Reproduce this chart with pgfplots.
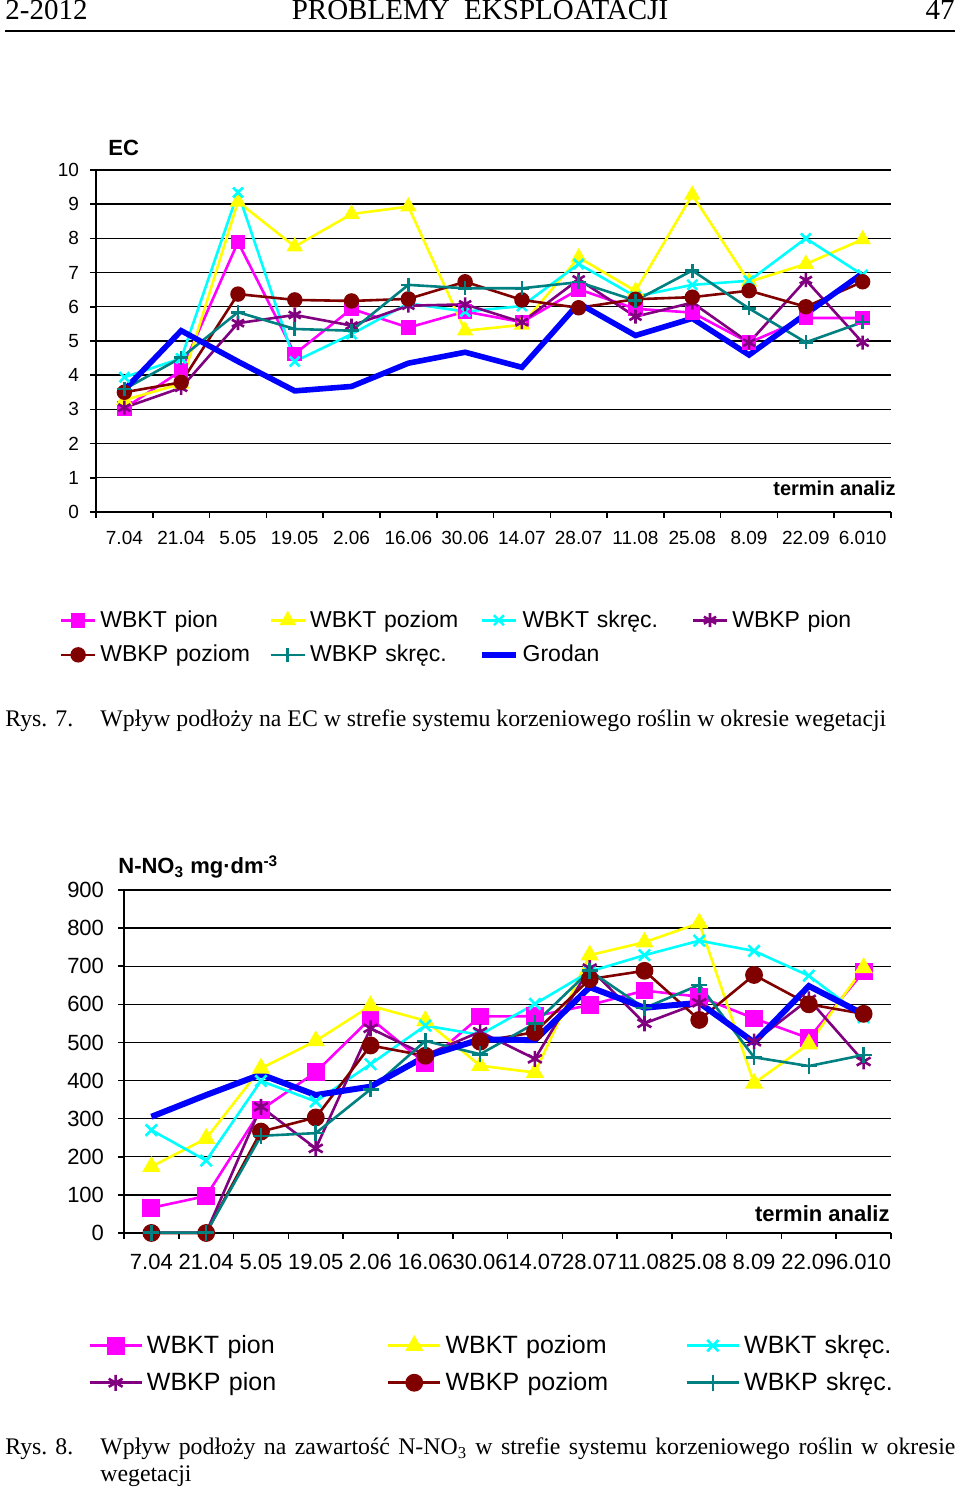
\documentclass[border=0pt]{standalone}
\usepackage{pgfplots}
\pgfplotsset{compat=1.18}
\usepackage{pgfplotstable}
\usepackage{fontspec}
\setmainfont{Liberation Serif}
\newfontfamily\arial{Liberation Sans}
\definecolor{cMag}{HTML}{FF00FF}
\definecolor{cYel}{HTML}{FFFF00}
\definecolor{cCya}{HTML}{00FFFF}
\definecolor{cPur}{HTML}{800080}
\definecolor{cBro}{HTML}{800000}
\definecolor{cTea}{HTML}{008080}
\definecolor{cBlu}{HTML}{0000FF}

% EC: a=WBKT pion, b=WBKT poziom, c=WBKT skrec, d=WBKP pion, e=WBKP poziom, f=WBKP skrec, g=Grodan
\pgfplotstableread{
x  a    b    c    d    e    f    g
0  3.03 3.27 3.94 3.05 3.50 3.59 3.57
1  4.13 3.75 4.49 3.63 3.79 4.51 5.30
2  7.89 9.07 9.34 5.52 6.37 5.84 4.40
3  4.62 7.76 4.40 5.76 6.20 5.35 3.54
4  5.94 8.71 5.20 5.45 6.17 5.30 3.67
5  5.39 8.93 6.10 6.03 6.23 6.64 4.35
6  5.86 5.30 5.86 6.07 6.73 6.54 4.67
7  5.55 5.47 6.02 5.55 6.20 6.54 4.23
8  6.51 7.44 7.25 6.80 5.97 6.72 6.10
9  5.94 6.46 6.30 5.71 6.22 6.18 5.16
10 5.83 9.27 6.64 6.12 6.28 7.06 5.66
11 4.95 6.73 6.76 4.95 6.47 5.95 4.59
12 5.67 7.25 8.00 6.78 6.00 4.96 5.79
13 5.67 7.97 6.93 4.95 6.73 5.55 6.98
}\ectable

% N-NO3
\pgfplotstableread{
x  a   b   c   d   e   f   g
0  66  174 270 1   0   1   305
1  97  248 190 1   0   1   362
2  323 432 399 331 266 255 416
3  422 504 345 222 303 262 362
4  563 596 443 537 492 377 384
5  445 557 544 467 465 504 463
6  568 439 520 528 502 469 508
7  569 421 601 457 527 550 506
8  598 729 686 695 666 688 645
9  636 763 729 550 688 590 591
10 620 813 767 604 559 651 604
11 563 393 740 502 677 461 500
12 511 496 675 613 600 438 648
13 686 696 566 450 575 467 574
}\notable

\pgfplotsset{
  sA/.style={cMag, line width=1.3bp, mark=square*, mark size=3bp, mark options={solid, fill=cMag}},
  sB/.style={cYel, line width=1.3bp, mark=triangle*, mark size=3.5bp, mark options={solid, fill=cYel}},
  sC/.style={cCya, line width=1.3bp, mark=x, mark size=3.5bp, mark options={solid}},
  sD/.style={cPur, line width=1.3bp, mark=asterisk, mark size=3.5bp, mark options={solid}},
  sE/.style={cBro, line width=1.3bp, mark=*, mark size=3.2bp, mark options={solid, fill=cBro}},
  sF/.style={cTea, line width=1.3bp, mark=+, mark size=3.5bp, mark options={solid}},
  sG/.style={cBlu, line width=2.8bp, mark=none},
  commonax/.style={
    scale only axis,
    xmin=-0.5, xmax=13.5,
    axis x line=bottom, axis y line=left,
    axis line style={-, black, line width=0.8bp},
    tick style={black, line width=0.8bp},
    tick align=outside,
    xtick={0,...,13},
    major x tick style={draw=none},
    minor xtick={-0.5,0.5,...,13.5},
    major tick length=3bp, minor tick length=3bp,
    ymajorgrids, major grid style={black, line width=0.7bp},
    /pgf/number format/assume math mode=true,
    clip=false,
  },
}

\begin{document}
\begin{tikzpicture}[x=0.5bp,y=0.5bp]
\useasboundingbox (0,0) rectangle (960,1491);
\fill[white] (0,0) rectangle (960,1491);

% header
\node[anchor=base west, inner sep=0, font=\fontsize{14.5bp}{16bp}\selectfont] at (5,1471) {2-2012};
\node[anchor=base, inner sep=0, font=\fontsize{14.5bp}{16bp}\selectfont] at (480,1471) {PROBLEMY\ \ EKSPLOATACJI};
\node[anchor=base east, inner sep=0, font=\fontsize{14.5bp}{16bp}\selectfont] at (955,1471) {47};
\draw[line width=0.8bp] (5,1460) -- (955,1460);

% ---------- Chart 1 ----------
\begin{axis}[commonax,
  at={(48bp,489.5bp)}, anchor=south west,
  width=397.5bp, height=171bp,
  ymin=0, ymax=10, ytick={0,...,10},
  xticklabels={7.04,21.04,5.05,19.05,2.06,16.06,30.06,14.07,28.07,11.08,25.08,8.09,22.09,6.010},
  tick label style={font=\arial\fontsize{9.5bp}{11bp}\selectfont},
  xticklabel style={yshift=-3bp},
  yticklabel style={xshift=-2bp},
  legend columns=4,
  legend cell align=left,
  legend style={at={(axis description cs:-0.046,-0.275)}, anchor=north west,
    draw=none, fill=none, inner sep=0pt,
    font=\arial\fontsize{11.5bp}{13bp}\selectfont,
    nodes={text width=77bp, align=left, inner xsep=2bp},
    /tikz/every even column/.append style={column sep=5.5bp},
    row sep=3.5bp},
]
\addplot[sA] table[x=x,y=a]{\ectable};
\addplot[sB] table[x=x,y=b]{\ectable};
\addplot[sC] table[x=x,y=c]{\ectable};
\addplot[sD] table[x=x,y=d]{\ectable};
\addplot[sE] table[x=x,y=e]{\ectable};
\addplot[sF] table[x=x,y=f]{\ectable};
\addplot[sG] table[x=x,y=g]{\ectable};
\legend{WBKT pion, WBKT poziom, WBKT skręc., WBKP pion, WBKP poziom, WBKP skręc., Grodan}
\end{axis}
\node[anchor=base west, inner sep=0, font=\arial\bfseries\fontsize{11bp}{12bp}\selectfont] at (108,1335) {EC};
\node[anchor=base east, inner sep=0, font=\arial\bfseries\fontsize{10bp}{12bp}\selectfont] at (896,995) {termin analiz};

% caption 1
\node[anchor=base west, inner sep=0, font=\fontsize{11.9bp}{13.5bp}\selectfont] at (5,764) {Rys. 7.};
\node[anchor=base west, inner sep=0, font=\fontsize{11.9bp}{13.5bp}\selectfont] at (100,764) {Wpływ podłoży na EC w strefie systemu korzeniowego roślin w okresie wegetacji};

% ---------- Chart 2 ----------
\begin{axis}[commonax,
  at={(62bp,129bp)}, anchor=south west,
  width=383.5bp, height=171.5bp,
  ymin=0, ymax=900, ytick={0,100,...,900},
  xticklabels={7.04,21.04,5.05,19.05,2.06,16.06,30.06,14.07,28.07,11.08,25.08,8.09,22.09,6.010},
  tick label style={font=\arial\fontsize{11bp}{12bp}\selectfont},
  xticklabel style={yshift=-4bp},
  yticklabel style={xshift=-3.5bp},
  legend columns=3,
  legend cell align=left,
  legend image code/.code={\draw[mark repeat=2,mark phase=2] plot coordinates {(0bp,0bp)(13bp,0bp)(26bp,0bp)};},
  legend style={at={(axis description cs:-0.047,-0.285)}, anchor=north west,
    draw=none, fill=none, inner sep=0pt,
    font=\arial\fontsize{12.5bp}{14bp}\selectfont,
    nodes={text width=108bp, align=left, inner xsep=2bp},
    /tikz/every even column/.append style={column sep=10bp},
    row sep=4bp},
]
\addplot[sA, mark size=3.8bp] table[x=x,y=a]{\notable};
\addplot[sB, mark size=4bp] table[x=x,y=b]{\notable};
\addplot[sC, mark size=4bp] table[x=x,y=c]{\notable};
\addplot[sD, mark size=4bp] table[x=x,y=d]{\notable};
\addplot[sE, mark size=3.8bp] table[x=x,y=e]{\notable};
\addplot[sF, mark size=4bp] table[x=x,y=f]{\notable};
\addplot[sG, line width=3bp] table[x=x,y=g]{\notable};
\legend{WBKT pion, WBKT poziom, WBKT skręc., WBKP pion, WBKP poziom, WBKP skręc.}
\end{axis}
\node[anchor=base west, inner sep=0, font=\arial\bfseries\fontsize{11bp}{12bp}\selectfont] at (118,617) {N-NO\textsubscript{3} mg·dm\textsuperscript{-3}};
\node[anchor=base east, inner sep=0, font=\arial\bfseries\fontsize{11bp}{12bp}\selectfont] at (890,269) {termin analiz};

% caption 2
\node[anchor=base west, inner sep=0, font=\fontsize{11.9bp}{13.5bp}\selectfont] at (5,36) {Rys. 8.};
\node[anchor=base west, inner sep=0, font=\fontsize{11.9bp}{13.5bp}\selectfont] at (100,36) {\makebox[427.5bp][s]{Wpływ podłoży na zawartość N-NO\textsubscript{3} w strefie systemu korzeniowego roślin w okresie}};
\node[anchor=base west, inner sep=0, font=\fontsize{11.9bp}{13.5bp}\selectfont] at (100,9) {wegetacji};
\end{tikzpicture}
\end{document}
